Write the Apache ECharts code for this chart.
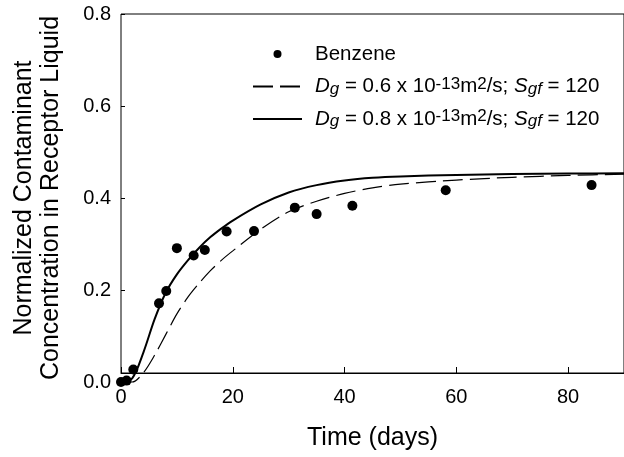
<!DOCTYPE html>
<html>
<head>
<meta charset="utf-8">
<script src="https://cdn.jsdelivr.net/npm/echarts@6/dist/echarts.min.js"></script>
<style>
  html, body { margin: 0; padding: 0; background: #fff; }
  #chart { width: 624px; height: 457px; }
</style>
</head>
<body>
<div id="chart"></div>
<script>
// measured points
var benzeneDays = [0, 1, 2.2, 6.8, 8.1, 10, 13, 15, 18.9, 23.8, 31.1, 35, 41.4, 58.1, 84.2];
var benzeneConc = [0, 0.003, 0.027, 0.171, 0.198, 0.291, 0.275, 0.287, 0.327, 0.328, 0.379, 0.365, 0.383, 0.417, 0.428];

// model curves
var curveDays = [0, 2, 4, 6, 8, 10, 12, 14, 16, 18, 20, 25, 30, 35, 40, 45, 50, 60, 70, 80, 90];
var dg06 = [0, 0, 0.02, 0.058, 0.103, 0.148, 0.185, 0.215, 0.242, 0.265, 0.285, 0.332, 0.37, 0.393, 0.41, 0.422, 0.43, 0.439, 0.445, 0.449, 0.452];
var dg08 = [0, 0.008, 0.064, 0.136, 0.194, 0.234, 0.265, 0.292, 0.315, 0.334, 0.351, 0.386, 0.412, 0.428, 0.438, 0.444, 0.447, 0.45, 0.452, 0.453, 0.454];

var xTicks = [0, 20, 40, 60, 80];

function pairs(xs, ys) {
  return xs.map(function (x, i) { return [x, ys[i]]; });
}

var names = {
  b: 'Benzene',
  d6: 'Dg = 0.6 x 10-13m2/s; Sgf = 120',
  d8: 'Dg = 0.8 x 10-13m2/s; Sgf = 120'
};
var richLabel = {};
richLabel[names.b] = 'Benzene';
richLabel[names.d6] = '{i|D}{sub|g} = 0.6 x 10{sup|-13}m{sup|2}/s; {i|S}{sub|gf} = 120';
richLabel[names.d8] = '{i|D}{sub|g} = 0.8 x 10{sup|-13}m{sup|2}/s; {i|S}{sub|gf} = 120';

var font = 'Liberation Sans, Arial, sans-serif';
var chart = echarts.init(document.getElementById('chart'));

var option = {
  animation: false,
  textStyle: { fontFamily: font, color: '#000' },
  grid: [
    { left: 121, top: 14, width: 508.5, bottom: 75 },
    { left: 121, top: 14, width: 508.5, bottom: 84, show: true, borderColor: '#000', borderWidth: 1 }
  ],
  legend: {
    orient: 'vertical',
    left: 247,
    top: 38,
    itemWidth: 49,
    itemHeight: 8,
    itemGap: 10.5,
    data: [
      names.b,
      { name: names.d6, itemStyle: { opacity: 0 } },
      { name: names.d8, itemStyle: { opacity: 0 } }
    ],
    formatter: function (n) { return richLabel[n]; },
    textStyle: {
      fontFamily: font,
      fontSize: 20.5,
      color: '#000',
      lineHeight: 22,
      padding: [0, 0, 0, 8],
      rich: {
        i: { fontFamily: font, fontSize: 20.5, fontStyle: 'italic', lineHeight: 22 },
        sub: { fontFamily: font, fontSize: 17, fontStyle: 'italic', verticalAlign: 'bottom', lineHeight: 16 },
        sup: { fontFamily: font, fontSize: 17, verticalAlign: 'top', lineHeight: 14 }
      }
    }
  },
  xAxis: [
    { gridIndex: 0, type: 'value', min: 0, max: 90, show: false },
    {
      gridIndex: 1, type: 'value', min: 0, max: 90, interval: 20,
      name: 'Time (days)', nameLocation: 'middle', nameGap: 53,
      nameTextStyle: { fontSize: 25, color: '#000', fontFamily: font },
      axisLine: { lineStyle: { color: '#000', width: 1 } },
      axisTick: { inside: true, length: 6, lineStyle: { color: '#000' } },
      axisLabel: { fontSize: 20, color: '#000', margin: 14, fontFamily: font,
        customValues: xTicks },
      splitLine: { show: false }
    }
  ],
  yAxis: [
    {
      gridIndex: 0, type: 'value', min: 0, max: 0.8, interval: 0.2,
      name: 'Normalized Contaminant\nConcentration in Receptor Liquid',
      nameLocation: 'middle', nameGap: 56,
      nameTextStyle: { fontSize: 25, lineHeight: 27, color: '#000', fontFamily: font },
      axisLine: { show: false },
      axisTick: { inside: true, length: 4, lineStyle: { color: '#000' } },
      axisLabel: { fontSize: 20, color: '#000', margin: 10, fontFamily: font,
        formatter: function (v) { return v.toFixed(1); } },
      splitLine: { show: false }
    },
    { gridIndex: 1, type: 'value', min: 0, max: 1, show: false }
  ],
  series: [
    {
      name: names.d6, type: 'line', xAxisIndex: 0, yAxisIndex: 0,
      data: pairs(curveDays, dg06), showSymbol: false, symbol: 'none',
      smooth: 0.3, clip: false,
      itemStyle: { color: '#000' },
      lineStyle: { color: '#000', width: 1.2, type: [20, 7] }
    },
    {
      name: names.d8, type: 'line', xAxisIndex: 0, yAxisIndex: 0,
      data: pairs(curveDays, dg08), showSymbol: false, symbol: 'none',
      smooth: 0.3, clip: false,
      itemStyle: { color: '#000' },
      lineStyle: { color: '#000', width: 2 }
    },
    {
      name: names.b, type: 'scatter', xAxisIndex: 0, yAxisIndex: 0,
      data: pairs(benzeneDays, benzeneConc), symbol: 'circle', symbolSize: 10,
      clip: false, itemStyle: { color: '#000', opacity: 1 }
    }
  ]
};
chart.setOption(option);
</script>
</body>
</html>
